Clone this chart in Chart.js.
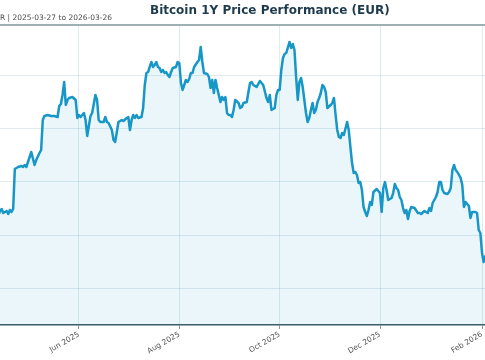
<!DOCTYPE html>
<html>
<head>
<meta charset="utf-8">
<script src="https://cdn.jsdelivr.net/npm/chart.js@4/dist/chart.umd.min.js"></script>
<style>
  html, body { margin: 0; padding: 0; background: #ffffff; overflow: hidden; width: 485px; height: 360px; }
  #wrap { position: absolute; left: -60px; top: 0; width: 660px; height: 360px; }
</style>
</head>
<body>
<div id="wrap"><canvas id="c"></canvas></div>
<script>
// ---- data ----
const START_DATE = '2025-03-27';
const END_DATE = '2026-03-26';
const TITLE = 'Bitcoin 1Y Price Performance (EUR)';
const SUBTITLE = 'Currency: EUR | 2025-03-27 to 2026-03-26';

// day offsets from START_DATE
const days = [0,1,4,6,7,10,12,13,14,15,17,
18,19,20,22,23,24,25,26,27,29,31,32,33,34,35,37,39,40,42,43,44,45,47,49,51,53,54,55,56,57,58,59,60,62,64,65,66,67,69,70,71,73,74,76,77,78,79,81,82,83,84,86,87,88,90,92,93,95,96,97,98,99,100,101,102,104,105,106,107,108,109,110,111,112,113,114,115,116,117,118,119,120,121,122,123,125,126,127,128,129,130,131,132,133,134,135,136,138,139,140,141,142,144,145,146,147,148,149,150,152,153,154,155,156,157,158,159,160,161,163,164,165,166,168,169,170,171,172,174,175,176,177,178,180,181,182,183,185,186,187,188,189,190,191,192,194,195,196,197,198,199,200,201,202,203,204,205,206,207,208,209,210,211,212,213,214,215,216,217,219,220,221,222,223,224,225,226,227,229,230,231,232,233,234,235,236,237,238,239,240,241,242,243,244,245,247,248,249,250,251,252,253,254,256,257,258,259,260,261,262,263,264,265,266,267,268,270,272,273,274,276,278,279,280,281,283,284,285,286,287,288,290,291,292,293,294,295,296,298,299,300,301,302,303,304,305,306,307,308,309,310,311,312,313,
316,320,325,330,335,340,345,350,355,360,364];

// closing price, EUR
const prices = [80500,78000,76200,78500,75500,71000,69600,75400,71200,73500,73700,
74530,74910,74150,74530,73960,74720,74340,74910,82450,82830,83020,82830,83210,82830,83770,85660,83210,84150,85470,86040,91700,92450,92640,92450,92450,92260,94340,94720,96420,98870,94530,95470,95850,96040,95470,92080,92640,92260,93020,91700,88680,92450,93020,96420,95470,91700,91320,91320,92260,91320,91130,89810,87920,87550,91320,91700,91510,92080,92260,89810,91700,92640,92080,92640,92080,92260,93960,98300,100570,100750,101700,102640,101700,102080,102640,101700,101510,100750,101130,100570,100750,100190,99810,100750,101510,101700,102640,102450,98680,97360,98300,99250,98870,99430,100570,100570,101700,102640,103020,105470,102640,100570,100380,99810,97740,99250,96790,99250,97740,95090,96040,95470,96040,93020,92640,92640,92260,93590,95470,94910,93960,94150,94910,95090,96980,98680,98870,98300,97930,98490,99060,98680,98300,95850,95090,96420,93590,93960,96420,97360,97360,101130,103400,104150,104340,106420,105280,106040,104910,99810,95470,98870,99620,97930,95470,93020,91320,92080,93590,94910,93020,93590,95090,95850,96790,98300,97930,96980,93960,94530,94910,95850,92640,89810,88490,88300,89250,88870,91320,89810,86600,83580,81700,81890,81320,79810,79980,78490,75280,74340,73590,74720,76230,75660,78110,78680,78300,77920,74340,78870,79980,78490,76600,76980,77920,79620,78870,78490,77170,76600,75090,74150,74720,73020,74530,75280,75090,74150,74150,73960,74530,74150,75090,74530,76040,77170,78110,79980,79980,78490,77920,77740,78110,78870,82260,83210,82260,81890,80760,79430,75280,76230,75850,75470,73210,74340,74340,74340,74150,70940,70380,66600,64900,66040,
64000,66500,61500,63500,58500,60000,62000,60500,63000,61000,60000];

const tickDates = ['2025-06-01','2025-08-01','2025-10-01','2025-12-01','2026-02-01'];
const tickLabels = ['Jun 2025','Aug 2025','Oct 2025','Dec 2025','Feb 2026'];
const yTicks = [60000, 70000, 80000, 90000, 100000];
const Y_MIN = 53020, Y_MAX = 109620;

// ---- helpers ----
const DAY = 86400000;
const dayOf = s => Math.round((Date.parse(s) - Date.parse(START_DATE)) / DAY);
const tickDays = tickDates.map(dayOf);
const points = days.map((d, i) => ({ x: d, y: prices[i] }));

const FONT = "'DejaVu Sans', 'Liberation Sans', sans-serif";
const GRID = 'rgba(175,205,216,0.4)';

const framePlugin = {
  id: 'frame',
  afterDraw(chart) {
    const { ctx, chartArea } = chart;
    ctx.save();
    ctx.strokeStyle = '#7f949e';
    ctx.lineWidth = 1.5;
    ctx.beginPath();
    ctx.moveTo(chartArea.left, chartArea.top);
    ctx.lineTo(chartArea.right, chartArea.top);
    ctx.stroke();
    // subtitle (left, small, grey)
    ctx.fillStyle = '#4a4a4a';
    ctx.font = "7.5px " + FONT;
    ctx.textAlign = 'right';
    ctx.textBaseline = 'alphabetic';
    ctx.fillText(SUBTITLE, 172, 20);
    ctx.restore();
  }
};

new Chart(document.getElementById('c'), {
  type: 'line',
  data: {
    datasets: [{
      data: points,
      borderColor: '#1796c8',
      backgroundColor: 'rgba(23,150,200,0.09)',
      borderWidth: 2.5,
      pointRadius: 0,
      tension: 0,
      fill: 'start',
      borderJoinStyle: 'round',
      borderCapStyle: 'round'
    }]
  },
  options: {
    responsive: true,
    maintainAspectRatio: false,
    animation: false,
    parsing: false,
    layout: { padding: { left: 30.4, right: 30.8, top: 0, bottom: 0 } },
    plugins: {
      legend: { display: false },
      tooltip: { enabled: false },
      title: {
        display: true,
        text: TITLE,
        color: '#1d3b4c',
        font: { family: FONT, size: 12, weight: 'bold' },
        padding: { top: 4, bottom: 6.6 }
      }
    },
    scales: {
      x: {
        type: 'linear',
        min: 0,
        max: dayOf(END_DATE),
        afterBuildTicks: s => { s.ticks = tickDays.map(v => ({ value: v })); },
        afterFit: s => { s.height = 35; },
        ticks: {
          autoSkip: false,
          maxRotation: 30,
          minRotation: 30,
          color: '#555555',
          padding: 1,
          font: { family: FONT, size: 7.5 },
          callback: (v) => tickLabels[tickDays.indexOf(v)]
        },
        grid: {
          color: GRID,
          lineWidth: 1,
          tickLength: 4,
          tickColor: '#8a9ba3'
        },
        border: { display: true, color: '#3f5865', width: 1.5 }
      },
      y: {
        min: Y_MIN,
        max: Y_MAX,
        afterBuildTicks: s => { s.ticks = yTicks.map(v => ({ value: v })); },
        afterFit: s => { s.width = 0; },
        ticks: { display: false },
        grid: { color: GRID, lineWidth: 1, drawTicks: false },
        border: { display: false }
      }
    }
  },
  plugins: [framePlugin]
});
</script>
</body>
</html>
